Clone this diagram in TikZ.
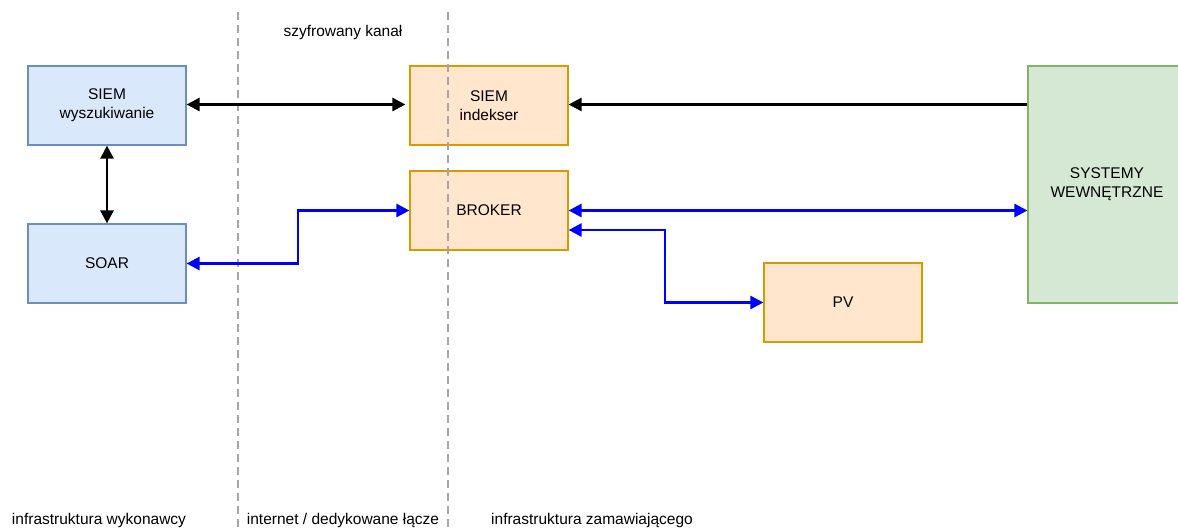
\documentclass[tikz,border=0pt]{standalone}
\usepackage{fontspec}
\setmainfont{Liberation Sans}
\usetikzlibrary{arrows.meta,calc}
\definecolor{bluefill}{HTML}{DAE8FC}
\definecolor{bluedraw}{HTML}{6C8EBF}
\definecolor{orfill}{HTML}{FFE6CC}
\definecolor{ordraw}{HTML}{D79B00}
\definecolor{grfill}{HTML}{D5E8D4}
\definecolor{grdraw}{HTML}{82B366}
\definecolor{sepgray}{HTML}{A6A6A6}
\definecolor{linkblue}{HTML}{0000FF}
\tikzset{
  box/.style={draw, line width=1.2pt, minimum width=158pt, minimum height=79pt, align=center, inner sep=2pt, font=\fontsize{15.5}{19}\selectfont},
  bluebox/.style={box, fill=bluefill, draw=bluedraw},
  orbox/.style={box, fill=orfill, draw=ordraw},
  grbox/.style={box, fill=grfill, draw=grdraw},
  lbl/.style={font=\fontsize{15.5}{19}\selectfont, inner sep=0pt},
  sep/.style={draw=sepgray, line width=2pt, dash pattern=on 8pt off 5pt},
  blk/.style={draw=black, line width=2.6pt, {Triangle[length=13pt,width=13pt]}-{Triangle[length=13pt,width=13pt]}},
  blkone/.style={draw=black, line width=2.6pt, -{Triangle[length=13pt,width=13pt]}},
  blu/.style={draw=linkblue, line width=2.6pt, {Triangle[length=13pt,width=13pt]}-{Triangle[length=13pt,width=13pt]}},
}
\begin{document}
\begin{tikzpicture}[x=1pt,y=-1pt]
\useasboundingbox (0,0) rectangle (1178,531);
\fill[white] (0,0) rectangle (1178,531);
\begin{scope}
\clip (0,0) rectangle (1178,531);
\node[bluebox] (siemw) at (107,105.5) {SIEM\\wyszukiwanie};
\node[bluebox] (soar) at (107,263.5) {SOAR};
\node[orbox] (siemi) at (489,105.5) {SIEM\\indekser};
\node[orbox] (broker) at (489,210.5) {BROKER};
\node[orbox] (pv) at (843,302.5) {PV};
\node[grbox, minimum height=237pt] (sys) at (1107,184.5) {SYSTEMY\\WEWNĘTRZNE};
\end{scope}

\coordinate (s1t) at (238,12);
\coordinate (s1b) at (238,531);
\coordinate (s2t) at (448,12);
\coordinate (s2b) at (448,531);
\path[sep] (s1t) -- (s1b);
\path[sep] (s2t) -- (s2b);

\node[lbl] (kanal) at (343,32) {szyfrowany kanał};
\node[lbl] (wyk) at (99,520) {infrastruktura wykonawcy};
\node[lbl] (net) at (343,520) {internet / dedykowane łącze};
\node[lbl] (zam) at (592,520) {infrastruktura zamawiającego};

\coordinate (bendsoar) at (298,263.5);
\coordinate (bendbroker) at (298,210.5);
\coordinate (bendpv1) at (665,230);
\coordinate (bendpv2) at (665,302.5);

\path[blk, shorten >=4pt] (siemw.east |- 0,104.5) -- (siemi.west |- 0,104.5);
\path[blk] (siemw.south) -- (soar.north);
\path[blkone] (sys.west |- 0,104.5) -- (siemi.east |- 0,104.5);
\path[blu] (soar.east) -- (bendsoar) -- (bendbroker) -- (broker.west);
\path[blu] (broker.east) -- (sys.west |- broker.east);
\path[blu] (broker.east |- bendpv1) -- (bendpv1) -- (bendpv2) -- (pv.west);
\end{tikzpicture}
\end{document}
